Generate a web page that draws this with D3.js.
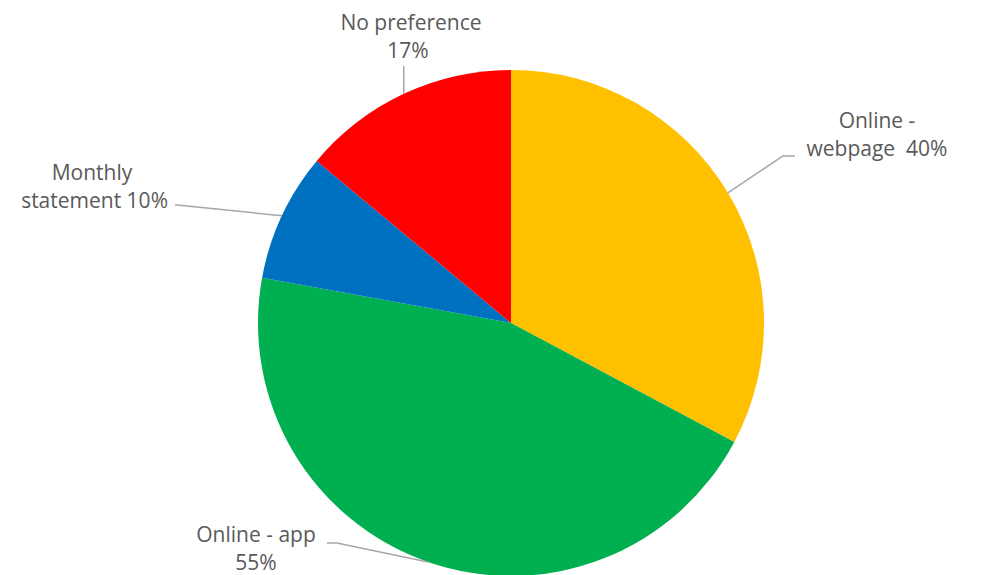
<!DOCTYPE html>
<html>
<head>
<meta charset="utf-8">
<script src="https://cdn.jsdelivr.net/npm/d3@7"></script>
<style>
  html, body { margin: 0; padding: 0; background: #fff; }
  text { font-family: "Open Sans", "DejaVu Sans", sans-serif; fill: #595959; }
</style>
</head>
<body>
<svg id="chart" width="982" height="575"></svg>
<script>
const categories = ["Online - webpage", "Online - app", "Monthly statement", "No preference"];
const values = [40, 55, 10, 17];
const colors = ["#FFC000", "#00B050", "#0070C0", "#FF0000"];
const labelLines = [["Online -", "webpage  40%"], ["Online - app", "55%"], ["Monthly", "statement 10%"], ["No preference", "17%"]];

const svg = d3.select("#chart");
const cx = 511, cy = 323, r = 253;
const g = svg.append("g").attr("transform", `translate(${cx},${cy})`);

const data = categories.map((c, i) => ({ name: c, value: values[i], color: colors[i], lines: labelLines[i] }));
const pie = d3.pie().value(d => d.value).sort(null);
const arc = d3.arc().innerRadius(0).outerRadius(r);
const arcs = pie(data);

g.selectAll("path.slice").data(arcs).enter().append("path")
  .attr("class", "slice")
  .attr("d", arc)
  .attr("fill", d => d.data.color);

// label layout (positions relative to chart)
const layout = [
  { x: [877, 877], anchor: ["middle", "middle"], y: 128, pts: [[783, 156], [795, 156]] },
  { x: [256, 256], anchor: ["middle", "middle"], y: 542, pts: [[337, 543], [327, 543]] },
  { x: [92, 168], anchor: ["middle", "end"], y: 180, pts: [[177, 205], [175, 205]] },
  { x: [411, 408], anchor: ["middle", "middle"], y: 30, pts: [] }
];

arcs.forEach((d, i) => {
  const mid = (d.startAngle + d.endAngle) / 2;
  const sx = cx + r * Math.sin(mid), sy = cy - r * Math.cos(mid);
  const L = layout[i];
  let pts = [[sx, sy]].concat(L.pts);
  if (i === 3) pts = [[sx, sy], [sx, 66]];
  svg.append("path")
    .attr("d", d3.line()(pts))
    .attr("fill", "none")
    .attr("stroke", "#A6A6A6")
    .attr("stroke-width", 1.5);
  const t = svg.append("text")
    .attr("font-size", 21)
    .style("white-space", "pre");
  d.data.lines.forEach((ln, j) => {
    t.append("tspan")
      .attr("x", L.x[j])
      .attr("y", L.y + j * 28)
      .attr("text-anchor", L.anchor[j])
      .text(ln);
  });
});
</script>
</body>
</html>
